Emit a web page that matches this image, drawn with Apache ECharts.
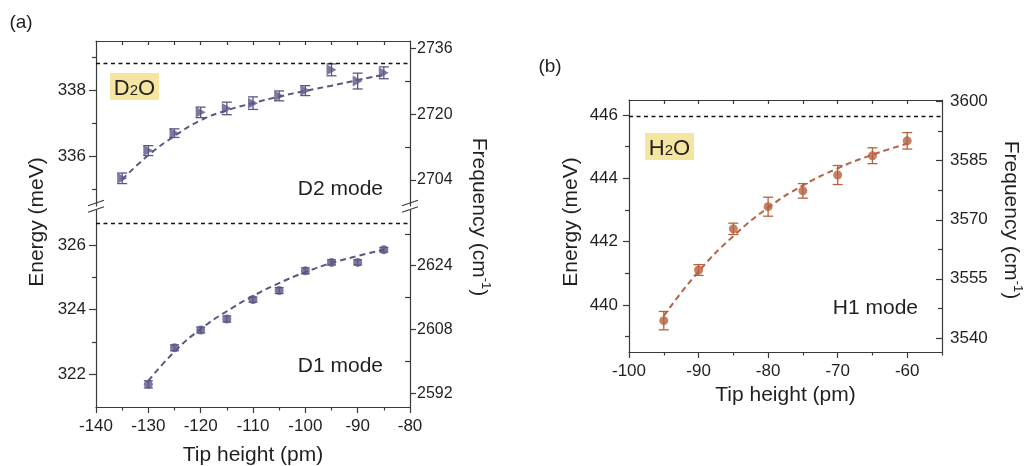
<!DOCTYPE html>
<html><head><meta charset="utf-8">
<script src="https://cdn.jsdelivr.net/npm/echarts@6/dist/echarts.min.js"></script>
<style>html,body{margin:0;padding:0;background:#fff}#c{width:1027px;height:466px}</style>
</head><body><div id="c"></div>
<script>
// ---------------- data ----------------
// Panel (a) D2 mode (D2O)
const tipD2 = [-135,-130,-125,-120,-115,-110,-105,-100,-95,-90,-85];
const d2Energy = [335.32,336.16,336.69,337.32,337.44,337.60,337.82,337.98,338.61,338.27,338.52];
const d2Err = [0.16,0.15,0.13,0.16,0.19,0.19,0.15,0.15,0.18,0.24,0.18];
const d2Fit = [335.28,336.02,336.60,337.08,337.38,337.60,337.80,337.97,338.13,338.30,338.46];
const d2Ref = 338.81;
// Panel (a) D1 mode
const tipD1 = [-130,-125,-120,-115,-110,-105,-100,-95,-90,-85];
const d1Energy = [321.69,322.82,323.37,323.71,324.31,324.59,325.20,325.46,325.46,325.85];
const d1Err = [0.11,0.09,0.09,0.09,0.08,0.09,0.09,0.08,0.08,0.07];
const d1Fit = [321.80,322.70,323.40,323.95,324.42,324.82,325.16,325.44,325.66,325.85];
const d1Ref = 326.67;
// Panel (b) H1 mode (H2O)
const tipH1 = [-95,-90,-85,-80,-75,-70,-65,-60];
const h1Energy = [439.50,441.10,442.40,443.10,443.60,444.10,444.71,445.18];
const h1Err = [0.29,0.17,0.18,0.30,0.23,0.30,0.25,0.26];
const h1Fit = [439.65,441.05,442.17,443.07,443.77,444.31,444.74,445.09];
const h1Ref = 445.97;

// tick labels / tick positions
const xTicksA = [-140,-130,-120,-110,-100,-90,-80];
const xMinorA = [-135,-125,-115,-105,-95,-85];
const xTopA = [-135,-130,-125,-120,-115,-110,-105,-100,-95,-90,-85];
const yTicksD2 = [336,338];
const yMinorD2 = [335,337,339];
const fTicksD2 = [2704,2720,2736];
const fMinorD2 = [2712,2728];
const yTicksD1 = [322,324,326];
const yMinorD1 = [323,325];
const fTicksD1 = [2592,2608,2624];
const fMinorD1 = [2600,2616,2632];
const xTicksB = [-100,-90,-80,-70,-60];
const xMinorB = [-95,-85,-75,-65,-55];
const xTopB = [-95,-90,-85,-80,-75,-70,-65,-60];
const yTicksH1 = [440,442,444,446];
const yMinorH1 = [439,441,443,445];
const fTicksH1 = [3540,3555,3570,3585,3600];
const fMinorH1 = [3547.5,3562.5,3577.5,3592.5];

// ---------------- styling ----------------
const FONT = 'Liberation Sans, Arial, Helvetica, sans-serif';
const TXT = '#231f20';
const AX = '#3a3a3a';
const PURPLE = '#5a5787';
const BROWN = '#b7613f';
const axLine = {show:true, onZero:false, lineStyle:{color:AX, width:1.2}};
const noLine = {show:false, onZero:false};
const tickStyle = {color:AX, width:1.2};
const plain = v => String(v);

function xAxisDef(grid, pos, min, max, ticks, len, inside, labels, extra) {
  return Object.assign({
    type:'value', gridIndex:grid, position:pos, min:min, max:max,
    axisLine: extra && extra.noLine ? noLine : axLine,
    axisTick:{show:true, inside:inside, length:len, customValues:ticks, lineStyle:tickStyle},
    axisLabel: labels ? {show:true, customValues:labels, margin:extra.margin, fontSize:17, color:TXT, fontFamily:FONT, formatter:plain}
                      : {show:false},
    splitLine:{show:false}, minorTick:{show:false}
  }, extra && extra.opt ? extra.opt : {});
}
function yAxisDef(grid, pos, min, max, ticks, len, inside, labels, margin, fs, noL) {
  return {
    type:'value', gridIndex:grid, position:pos, min:min, max:max,
    axisLine: noL ? noLine : axLine,
    axisTick:{show:true, inside:inside, length:len, customValues:ticks, lineStyle:tickStyle},
    axisLabel: labels ? {show:true, customValues:labels, margin:margin, fontSize:fs, color:TXT, fontFamily:FONT, formatter:plain}
                      : {show:false},
    splitLine:{show:false}, minorTick:{show:false}
  };
}

const xAxes = [
  // 0: panel a top grid (top edge ticks)
  xAxisDef(0,'top',-140,-80,xTopA,4,true,null,null),
  // 1: panel a bottom grid main axis
  xAxisDef(1,'bottom',-140,-80,xTicksA,6,false,xTicksA,{margin:11, opt:{
    name:'Tip height (pm)', nameLocation:'middle', nameGap:38,
    nameTextStyle:{fontSize:21, color:TXT, fontFamily:FONT}}}),
  // 2: panel a bottom minor ticks
  xAxisDef(1,'bottom',-140,-80,xMinorA,3.5,false,null,{noLine:true}),
  // 3: panel b bottom main axis
  xAxisDef(2,'bottom',-100,-55,xTicksB,6,false,xTicksB,{margin:11, opt:{
    name:'Tip height (pm)', nameLocation:'middle', nameGap:33,
    nameTextStyle:{fontSize:21, color:TXT, fontFamily:FONT}}}),
  // 4: panel b bottom minor ticks
  xAxisDef(2,'bottom',-100,-55,xMinorB,3.5,false,null,{noLine:true}),
  // 5: panel b top edge
  xAxisDef(2,'top',-100,-55,xTopB,4,true,null,null)
];

const yAxes = [
  // panel a top (D2)
  yAxisDef(0,'left',334.48,339.485,yTicksD2,7,false,yTicksD2,10,17),      // 0
  yAxisDef(0,'left',334.48,339.485,yMinorD2,4,false,null,0,0,true),       // 1
  yAxisDef(0,'right',2697.68,2737.77,fTicksD2,6,false,fTicksD2,7,16),     // 2
  yAxisDef(0,'right',2697.68,2737.77,fMinorD2,5,true,null,0,0,true),      // 3
  // panel a bottom (D1)
  yAxisDef(1,'left',320.99,327.08,yTicksD1,7,false,yTicksD1,10,17),       // 4
  yAxisDef(1,'left',320.99,327.08,yMinorD1,4,false,null,0,0,true),        // 5
  yAxisDef(1,'right',2588.56,2637.97,fTicksD1,6,false,fTicksD1,7,16),     // 6
  yAxisDef(1,'right',2588.56,2637.97,fMinorD1,5,true,null,0,0,true),      // 7
  // panel b (H1)
  yAxisDef(2,'left',438.51,446.47,yTicksH1,6,false,yTicksH1,11,17),       // 8
  yAxisDef(2,'left',438.51,446.47,yMinorH1,4,false,null,0,0,true),        // 9
  yAxisDef(2,'right',3536.4,3600.43,fTicksH1,6,true,fTicksH1,8,17),       // 10
  yAxisDef(2,'right',3536.4,3600.43,fMinorH1,4,true,null,0,0,true)        // 11
];

function pairs(xs, ys) { return xs.map((x,i)=>[x, ys[i]]); }
function errData(xs, ys, es) { return xs.map((x,i)=>[x, ys[i]-es[i], ys[i]+es[i]]); }
function errRender(color, half) {
  return function(params, api) {
    const x = api.value(0);
    const lo = api.coord([x, api.value(1)]);
    const hi = api.coord([x, api.value(2)]);
    const st = {stroke:color, lineWidth:1.3};
    return {type:'group', children:[
      {type:'line', shape:{x1:hi[0], y1:hi[1], x2:lo[0], y2:lo[1]}, style:st},
      {type:'line', shape:{x1:hi[0]-half, y1:hi[1], x2:hi[0]+half, y2:hi[1]}, style:st},
      {type:'line', shape:{x1:lo[0]-half, y1:lo[1], x2:lo[0]+half, y2:lo[1]}, style:st}
    ]};
  };
}
function refLine(v) {
  return {silent:true, symbol:['none','none'], label:{show:false},
    lineStyle:{color:'#111', type:[4,3.5], width:1.4}, data:[{yAxis:v}]};
}
function seriesSet(xi, yi, xs, ys, es, fit, ref, color, symbol, size, rot, half) {
  return [
    {type:'line', xAxisIndex:xi, yAxisIndex:yi, data:pairs(xs, fit), smooth:true,
     showSymbol:false, silent:true, lineStyle:{color:color, width:2, type:[6,4]},
     markLine: refLine(ref), z:2},
    {type:'custom', xAxisIndex:xi, yAxisIndex:yi, data:errData(xs, ys, es),
     renderItem: errRender(color, half), encode:{x:0, y:[1,2]}, z:3, silent:true},
    {type:'scatter', xAxisIndex:xi, yAxisIndex:yi, data:pairs(xs, ys), symbol:symbol,
     symbolSize:size, symbolRotate:rot, itemStyle:{color:color}, z:4, silent:true}
  ];
}

const series = [].concat(
  seriesSet(0, 0, tipD2, d2Energy, d2Err, d2Fit, d2Ref, PURPLE, 'triangle', [11,10], -90, 5),
  seriesSet(1, 4, tipD1, d1Energy, d1Err, d1Fit, d1Ref, PURPLE, 'circle', 9, 0, 4.5),
  seriesSet(3, 8, tipH1, h1Energy, h1Err, h1Fit, h1Ref, BROWN, 'circle', 9, 0, 5)
);

const freqRich = {
  a:{fontSize:21, fontFamily:FONT, fill:TXT, color:TXT, lineHeight:24, verticalAlign:'bottom'},
  s:{fontSize:13, fontFamily:FONT, fill:TXT, color:TXT, lineHeight:24, verticalAlign:'top'}
};
function txt(x, y, text, fs, align, rot, extra) {
  return Object.assign({type:'text', x:x, y:y, rotation:rot||0, silent:true,
    style:{text:text, fontSize:fs, fontFamily:FONT, fill:TXT, align:align||'center', verticalAlign:'middle'}}, extra||{});
}
function breakMark(cx, cy) {
  const st = {stroke:'#3a3a3a', lineWidth:1.2};
  return [
    {type:'line', silent:true, shape:{x1:cx-8, y1:cy-2.5+2.7, x2:cx+8, y2:cy-2.5-2.7}, style:st},
    {type:'line', silent:true, shape:{x1:cx-8, y1:cy+4+2.7, x2:cx+8, y2:cy+4-2.7}, style:st}
  ];
}
function labelBox(x, y, w, h, main, sub, tail) {
  return [
    {type:'rect', silent:true, shape:{x:x, y:y, width:w, height:h}, style:{fill:'#f4e6a0'}},
    {type:'text', silent:true, x:x+w/2, y:y+h/2+1, style:{
      text:'{m|'+main+'}{s|'+sub+'}{m|'+tail+'}', align:'center', verticalAlign:'middle',
      rich:{m:{fontSize:22, fontFamily:FONT, fill:TXT, lineHeight:24, verticalAlign:'bottom'},
            s:{fontSize:15, fontFamily:FONT, fill:TXT, lineHeight:24, verticalAlign:'bottom', padding:[0,0,1,0]}}}}
  ];
}

const graphics = [].concat(
  [txt(21, 23, '(a)', 19, 'center'), txt(550, 67, '(b)', 19, 'center')],
  breakMark(96, 205.5), breakMark(410, 205.5),
  labelBox(110, 73, 49, 27, 'D', '2', 'O'),
  labelBox(645, 133, 49, 27, 'H', '2', 'O'),
  [txt(383, 189, 'D2 mode', 21, 'right'),
   txt(383, 366, 'D1 mode', 21, 'right'),
   txt(918, 308, 'H1 mode', 21, 'right'),
   txt(37, 222, 'Energy (meV)', 21, 'center', Math.PI/2),
   txt(571, 222, 'Energy (meV)', 21, 'center', Math.PI/2),
   {type:'text', x:480, y:217, rotation:-Math.PI/2, silent:true,
    style:{text:'{a|Frequency (cm}{s|-1}{a|)}', align:'center', verticalAlign:'middle', rich:freqRich}},
   {type:'text', x:1012, y:220, rotation:-Math.PI/2, silent:true,
    style:{text:'{a|Frequency (cm}{s|-1}{a|)}', align:'center', verticalAlign:'middle', rich:freqRich}}]
);

const chart = echarts.init(document.getElementById('c'), null, {renderer:'canvas'});
chart.setOption({
  animation:false,
  backgroundColor:'#ffffff',
  textStyle:{fontFamily:FONT},
  grid:[
    {left:96, top:41, width:314, height:165, show:false, containLabel:false, outerBoundsMode:'none'},
    {left:96, top:210, width:314, height:197, show:false, containLabel:false, outerBoundsMode:'none'},
    {left:629, top:100, width:313, height:252, show:false, containLabel:false, outerBoundsMode:'none'}
  ],
  xAxis: xAxes,
  yAxis: yAxes,
  series: series,
  graphic: graphics
});
</script></body></html>
